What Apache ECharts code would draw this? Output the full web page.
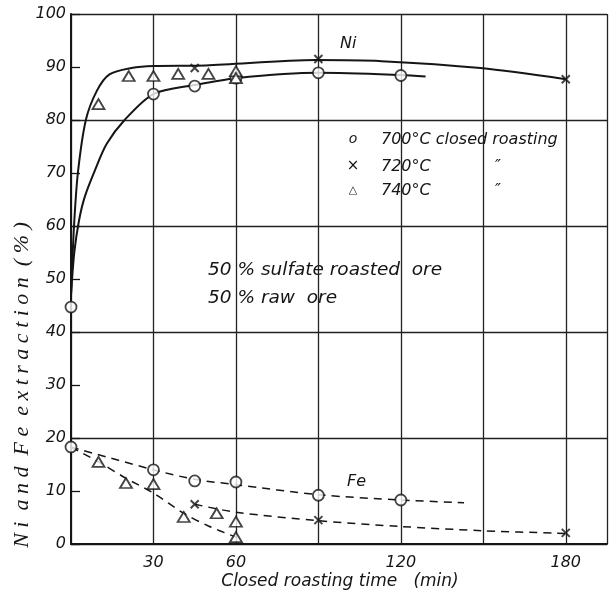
<!DOCTYPE html>
<html>
<head>
<meta charset="utf-8">
<script src="https://cdn.jsdelivr.net/npm/echarts@6/dist/echarts.min.js"></script>
<style>
html, body { margin: 0; padding: 0; background: #fff; }
#chart { width: 610px; height: 596px; }
</style>
</head>
<body>
<div id="chart"></div>
<script>
// tick labels shown on the time axis (90 and 150 are left blank in the original)
const xTickLabels = [30, 60, 120, 180]

// Ni extraction, measured points
const ni700X = [0, 30, 45, 60, 90, 120]
const ni700Y = [44.7, 84.9, 86.4, 87.9, 88.9, 88.4]
const ni720X = [45, 90, 180]
const ni720Y = [89.8, 91.5, 87.7]
const ni740X = [10, 21, 30, 39, 50, 60, 60]
const ni740Y = [83.0, 88.3, 88.3, 88.7, 88.7, 89.2, 87.9]

// Ni drawn curves
const niLowX = [0, 1.2, 2.9, 5, 8.7, 13, 19.5, 30, 45, 60, 90, 120, 129]
const niLowY = [47, 55, 61, 65.5, 70.5, 75.5, 80, 84.9, 86.6, 87.9, 88.9, 88.5, 88.2]
const niHighX = [0, 1.1, 2.5, 5.4, 9.4, 14, 22, 30, 49, 89, 113, 149, 180]
const niHighY = [47, 60, 70, 80, 85.5, 88.6, 89.8, 90.2, 90.3, 91.3, 91.1, 89.8, 87.7]

// Fe extraction, measured points
const fe700X = [0, 30, 45, 60, 90, 120]
const fe700Y = [18.3, 14.0, 11.9, 11.7, 9.2, 8.3]
const fe720X = [45, 90, 180]
const fe720Y = [7.5, 4.5, 2.1]
const fe740X = [10, 20, 30, 41, 53, 60, 60]
const fe740Y = [15.5, 11.5, 11.3, 5.1, 5.8, 4.2, 1.3]

// Fe drawn curves
const fe700CurveX = [0, 30, 45, 60, 90, 120, 143]
const fe700CurveY = [18.3, 14, 12.2, 11.2, 9.3, 8.3, 7.8]
const fe720CurveX = [45, 60, 90, 120, 150, 180]
const fe720CurveY = [7.5, 6.0, 4.4, 3.3, 2.5, 2.0]
const fe740CurveX = [0, 10, 20, 30, 41, 50, 60]
const fe740CurveY = [18.3, 15.5, 12.4, 9.6, 5.8, 3.4, 1.3]

const ink = '#151515'
const hand = "italic 16px 'DejaVu Sans', sans-serif"

function zip(xs, ys) {
  return xs.map((x, i) => [x, ys[i]])
}

function curve(xs, ys, dashed) {
  return {
    type: 'line',
    data: zip(xs, ys),
    smooth: 0.3,
    showSymbol: false,
    silent: true,
    z: 2,
    lineStyle: dashed
      ? { color: ink, width: 1.5, type: [8, 6] }
      : { color: ink, width: 2 }
  }
}

const circleStyle = { color: '#fff', borderColor: ink, borderWidth: 1.8 }
const crossPath = 'path://M0,0L10,10M10,0L0,10'

function marks(xs, ys, kind) {
  const s = {
    type: 'scatter',
    data: zip(xs, ys),
    z: 3,
    itemStyle: circleStyle
  }
  if (kind === 'o') {
    s.symbol = 'circle'
    s.symbolSize = 11
  } else if (kind === 'x') {
    s.symbol = crossPath
    s.symbolSize = 8
    s.itemStyle = { color: 'none', borderColor: ink, borderWidth: 2 }
  } else {
    s.symbol = 'triangle'
    s.symbolSize = [12, 10]
  }
  return s
}

function label(text, x, y, font, align) {
  return {
    type: 'text',
    x: x,
    y: y,
    style: {
      text: text,
      font: font || hand,
      fill: ink,
      textAlign: align || 'left',
      textVerticalAlign: 'middle'
    }
  }
}

const chart = echarts.init(document.getElementById('chart'))

chart.setOption({
  backgroundColor: '#fff',
  animation: false,
  grid: { left: 71, top: 14, right: -2, bottom: 52 },
  xAxis: {
    type: 'value',
    min: 0,
    max: 195,
    interval: 30,
    axisLine: { lineStyle: { color: ink, width: 2 } },
    axisTick: { show: false },
    splitLine: { show: true, lineStyle: { color: '#222', width: 1.3 } },
    axisLabel: {
      margin: 11,
      color: ink,
      fontFamily: 'DejaVu Sans',
      fontStyle: 'italic',
      fontSize: 16,
      formatter: v => (xTickLabels.includes(v) ? String(v) : '')
    }
  },
  yAxis: [
    {
      type: 'value',
      min: 0,
      max: 100,
      interval: 10,
      axisLine: { show: true, lineStyle: { color: ink, width: 2 } },
      axisTick: { show: true, inside: true, length: 9, lineStyle: { color: ink, width: 1.3 } },
      splitLine: { show: false },
      axisLabel: {
        margin: 5,
        color: ink,
        fontFamily: 'DejaVu Sans',
        fontStyle: 'italic',
        fontSize: 16
      }
    },
    {
      type: 'value',
      min: 0,
      max: 100,
      interval: 20,
      position: 'left',
      axisLine: { show: false },
      axisTick: { show: false },
      axisLabel: { show: false },
      splitLine: { show: true, lineStyle: { color: '#222', width: 1.3 } }
    }
  ],
  series: [
    curve(niLowX, niLowY, false),
    curve(niHighX, niHighY, false),
    curve(fe700CurveX, fe700CurveY, true),
    curve(fe720CurveX, fe720CurveY, true),
    curve(fe740CurveX, fe740CurveY, true),
    marks(ni700X, ni700Y, 'o'),
    marks(ni720X, ni720Y, 'x'),
    marks(ni740X, ni740Y, 't'),
    marks(fe700X, fe700Y, 'o'),
    marks(fe720X, fe720Y, 'x'),
    marks(fe740X, fe740Y, 't')
  ],
  graphic: [
    label('Ni', 340, 44),
    label('Fe', 347, 482),
    label('o', 353, 139, "italic 14px 'DejaVu Sans', sans-serif", 'center'),
    label('×', 353, 166, "15px 'DejaVu Sans', sans-serif", 'center'),
    label('△', 353, 190, "11px 'DejaVu Sans', sans-serif", 'center'),
    label('700°C closed roasting', 381, 140),
    label('720°C', 381, 167),
    label('740°C', 381, 191),
    label('″', 495, 167),
    label('″', 495, 191),
    label('50 % sulfate roasted  ore', 208, 270, "italic 18.5px 'DejaVu Sans', sans-serif"),
    label('50 % raw  ore', 208, 298, "italic 18.5px 'DejaVu Sans', sans-serif"),
    label('Closed roasting time   (min)', 340, 582, "italic 17px 'DejaVu Sans', sans-serif", 'center'),
    {
      type: 'text',
      x: 22,
      y: 385,
      rotation: Math.PI / 2,
      style: {
        text: 'N i  a n d  F e  e x t r a c t i o n  ( % )',
        font: "italic 22px 'Liberation Serif', serif",
        fill: ink,
        textAlign: 'center',
        textVerticalAlign: 'middle'
      }
    }
  ]
})
</script>
</body>
</html>
